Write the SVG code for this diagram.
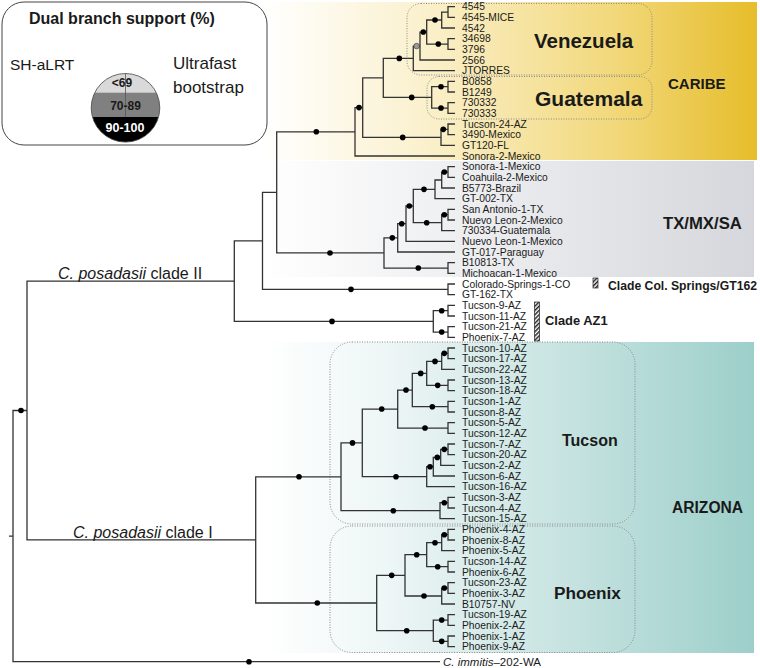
<svg xmlns="http://www.w3.org/2000/svg" width="760" height="668" viewBox="0 0 760 668">
<style>
text{font-family:"Liberation Sans",Arial,sans-serif;fill:#1a1a1a}
.lf{font-size:10.3px}
.b{font-weight:bold}
.tr{fill:none;stroke:#333;stroke-width:1.3}
.dt{fill:#000}
.box{fill:none;stroke:#8a8a8a;stroke-width:1;stroke-dasharray:1 1.5}
</style>
<defs>
<linearGradient id="gY" x1="0" y1="0" x2="1" y2="0">
<stop offset="0" stop-color="#ffffff"/>
<stop offset="0.3" stop-color="#fbf2d2"/>
<stop offset="0.7" stop-color="#f2d97e"/>
<stop offset="1" stop-color="#e6bd2a"/>
</linearGradient>
<linearGradient id="gG" x1="0" y1="0" x2="1" y2="0">
<stop offset="0" stop-color="#ffffff"/>
<stop offset="1" stop-color="#d5d7dc"/>
</linearGradient>
<linearGradient id="gT" x1="0" y1="0" x2="1" y2="0">
<stop offset="0" stop-color="#ffffff"/>
<stop offset="0.25" stop-color="#eef6f6"/>
<stop offset="1" stop-color="#9dcfca"/>
</linearGradient>
<pattern id="hatch" width="3" height="3" patternUnits="userSpaceOnUse" patternTransform="rotate(45)">
<rect width="3" height="3" fill="#fff"/><rect width="1.5" height="3" fill="#222"/>
</pattern>
<clipPath id="cc"><circle cx="125.5" cy="107.8" r="34.3"/></clipPath>
</defs>

<g id="bands">
<rect x="262" y="2" width="495" height="158" fill="url(#gY)"/>
<rect x="262" y="161" width="492" height="116" fill="url(#gG)"/>
<rect x="262" y="342" width="492" height="311" fill="url(#gT)"/>
</g>

<g id="legend">
<rect x="2" y="2" width="265" height="143" rx="22" fill="#fff" stroke="#444" stroke-width="1"/>
<text x="29" y="24" class="b" style="font-size:16px">Dual branch support (%)</text>
<text x="10" y="69.5" style="font-size:15.5px">SH-aLRT</text>
<text x="173" y="69" style="font-size:17px">Ultrafast</text>
<text x="173" y="93" style="font-size:17px">bootstrap</text>
<g clip-path="url(#cc)">
<rect x="90" y="70" width="72" height="23" fill="#d9d9d9"/>
<rect x="90" y="92.7" width="72" height="24.5" fill="#808080"/>
<rect x="90" y="117" width="72" height="30" fill="#000"/>
</g>
<line x1="125.5" y1="73.5" x2="125.5" y2="117" stroke="#555" stroke-width="0.8"/>
<circle cx="125.5" cy="107.8" r="34.3" fill="none" stroke="#444" stroke-width="0.8"/>
<text x="122" y="87" class="b" text-anchor="middle" style="font-size:12px">&lt;69</text>
<text x="125.5" y="109.5" class="b" text-anchor="middle" style="font-size:12px">70-89</text>
<text x="125" y="132" class="b" text-anchor="middle" style="font-size:12.5px;fill:#fff">90-100</text>
</g>

<g id="clade-boxes">
<rect class="box" x="407" y="3.5" width="245" height="71.5" rx="14"/>
<rect class="box" x="427" y="76.5" width="225" height="42.5" rx="12"/>
<rect class="box" x="330" y="342" width="305" height="182" rx="22"/>
<rect class="box" x="330" y="526" width="305" height="126.5" rx="22"/>
</g>

<g id="connectors">
<path class="tr" d="M455 6.7H448V17.4H455M455 38.7H448V49.4H455M455 81.4H448V92H455M455 102.7H448V113.4H455M455 124H448V134.7H455M455 166.7H448V177.4H455M455 209.4H448V220H455M455 262.7H448V273.4H455M455 284H448V294.7H455M455 305.4H448V316H455M455 326.7H448V337.4H455M455 348H448V358.7H455M455 380H448V390.7H455M455 401.4H448V412H455M455 422.7H448V433.4H455M455 444H448V454.7H455M455 497.4H448V508H455M455 529.4H448V540H455M455 561.4H448V572H455M455 582.7H448V593.4H455M455 614.7H448V625.4H455M455 636H448V646.7H455"/>
<path class="tr" d="M448 12.05H441.7V28H455M441.7 20H426.7V44.05H448M426.7 32.05H420V60H455M420 46.05H413.3V70.7H455M448 86.7H431.7V108.05H448M413.3 58.4H383.3V97.4H431.7M448 129.35H441V145.4H455M383.3 77.9H362.7V137.4H441M362.7 107.6H355V156H455"/>
<path class="tr" d="M448 172.05H441.7V188H455M441.7 180H435V198.7H455M448 214.7H441.7V230.7H455M435 189.35H413.3V222.7H441.7M413.3 206H406V241.4H455M406 223.7H397.7V252H455M397.7 237.85H384V268.05H448M355 131.8H276.7V252.95H384M276.7 192.4H262.5V289.35H448M448 310.7H433.3V332.05H448M262.5 240.9H234.3V321.4H433.3"/>
<path class="tr" d="M448 353.35H441.7V369.4H455M441.7 361.4H426.7V385.35H448M426.7 373.4H412.3V406.7H448M412.3 390.05H397.7V428.05H448M448 449.35H440.7V465.4H455M440.7 457.4H433.3V476H455M433.3 466.7H426.7V486.7H455M397.7 409.05H362.3V476.7H426.7M448 502.7H440V518.7H455M362.3 442.9H341V510.7H440"/>
<path class="tr" d="M448 534.7H441.7V550.7H455M441.7 542.7H426.7V566.7H448M448 588.05H441.7V604H455M426.7 554.7H405V596H441.7M448 620.05H433.3V641.35H448M405 575.35H376.7V630.7H433.3M341 476.8H255.7V603H376.7"/>
<path class="tr" d="M234.3 281.15H27V539.9H255.7M27 410.5H13V661.7H440M9 536.1H13"/>
</g>

<g id="support">
<circle class="dt" cx="21" cy="410.5" r="2.8"/><circle class="dt" cx="249" cy="661.7" r="2.8"/>
<circle class="dt" cx="316.3" cy="131.8" r="2.8"/><circle class="dt" cx="359" cy="107.6" r="2.8"/><circle class="dt" cx="399.3" cy="58.4" r="2.8"/><circle class="dt" cx="411.7" cy="97.4" r="2.8"/>
<circle cx="416.6" cy="46.05" r="2.8" fill="#9a9a9a" stroke="#333" stroke-width="0.6"/>
<circle class="dt" cx="423.3" cy="32.05" r="2.8"/><circle class="dt" cx="435" cy="20" r="2.8"/><circle class="dt" cx="438.3" cy="44.05" r="2.8"/><circle class="dt" cx="441" cy="86.7" r="2.8"/><circle class="dt" cx="441" cy="108.05" r="2.8"/><circle class="dt" cx="443.3" cy="129.35" r="2.8"/><circle class="dt" cx="402.7" cy="137.4" r="2.8"/>
<circle class="dt" cx="330" cy="252.95" r="2.8"/><circle class="dt" cx="392.3" cy="237.85" r="2.8"/><circle class="dt" cx="401.7" cy="223.7" r="2.8"/><circle class="dt" cx="409.3" cy="206" r="2.8"/><circle class="dt" cx="424" cy="189.35" r="2.8"/><circle class="dt" cx="426.7" cy="222.7" r="2.8"/><circle class="dt" cx="444.3" cy="172.05" r="2.8"/><circle class="dt" cx="444.3" cy="214.7" r="2.8"/><circle class="dt" cx="418.3" cy="268.05" r="2.8"/>
<circle class="dt" cx="351" cy="289.35" r="2.8"/><circle class="dt" cx="332" cy="321.4" r="2.8"/><circle class="dt" cx="441.7" cy="310.7" r="2.8"/><circle class="dt" cx="441.7" cy="332.05" r="2.8"/>
<circle class="dt" cx="299" cy="476.8" r="2.8"/><circle class="dt" cx="352.5" cy="442.9" r="2.8"/><circle class="dt" cx="393.3" cy="510.7" r="2.8"/><circle class="dt" cx="444.3" cy="502.7" r="2.8"/><circle class="dt" cx="381.7" cy="409.05" r="2.8"/><circle class="dt" cx="396" cy="476.7" r="2.8"/><circle class="dt" cx="430" cy="466.7" r="2.8"/><circle class="dt" cx="437.3" cy="457.4" r="2.8"/><circle class="dt" cx="444.3" cy="449.35" r="2.8"/><circle class="dt" cx="425" cy="428.05" r="2.8"/><circle class="dt" cx="406" cy="390.05" r="2.8"/><circle class="dt" cx="432.3" cy="406.7" r="2.8"/><circle class="dt" cx="420.7" cy="373.4" r="2.8"/><circle class="dt" cx="437.7" cy="385.35" r="2.8"/><circle class="dt" cx="435" cy="361.4" r="2.8"/><circle class="dt" cx="444.3" cy="353.35" r="2.8"/>
<circle class="dt" cx="317.3" cy="603" r="2.8"/><circle class="dt" cx="391.7" cy="575.35" r="2.8"/><circle class="dt" cx="406.7" cy="630.7" r="2.8"/><circle class="dt" cx="441.7" cy="620.05" r="2.8"/><circle class="dt" cx="441.7" cy="641.35" r="2.8"/><circle class="dt" cx="416.7" cy="554.7" r="2.8"/><circle class="dt" cx="424" cy="596" r="2.8"/><circle class="dt" cx="444.3" cy="588.05" r="2.8"/><circle class="dt" cx="435" cy="542.7" r="2.8"/><circle class="dt" cx="437.7" cy="566.7" r="2.8"/><circle class="dt" cx="444.3" cy="534.7" r="2.8"/>
</g>

<g id="leaves">
<g id="n1"><text class="lf" x="462" y="10.3">4545</text></g>
<g id="n2"><text class="lf" x="462" y="21">4545-MICE</text></g>
<g id="n3"><text class="lf" x="462" y="31.6">4542</text></g>
<g id="n4"><text class="lf" x="462" y="42.3">34698</text></g>
<g id="n5"><text class="lf" x="462" y="53">3796</text></g>
<g id="n6"><text class="lf" x="462" y="63.6">2566</text></g>
<g id="n7"><text class="lf" x="462" y="74.3">JTORRES</text></g>
<g id="n8"><text class="lf" x="462" y="85">B0858</text></g>
<g id="n9"><text class="lf" x="462" y="95.6">B1249</text></g>
<g id="n10"><text class="lf" x="462" y="106.3">730332</text></g>
<g id="n11"><text class="lf" x="462" y="117">730333</text></g>
<g id="n12"><text class="lf" x="462" y="127.6">Tucson-24-AZ</text></g>
<g id="n13"><text class="lf" x="462" y="138.3">3490-Mexico</text></g>
<g id="n14"><text class="lf" x="462" y="149">GT120-FL</text></g>
<g id="n15"><text class="lf" x="462" y="159.6">Sonora-2-Mexico</text></g>
<g id="n16"><text class="lf" x="462" y="170.3">Sonora-1-Mexico</text></g>
<g id="n17"><text class="lf" x="462" y="181">Coahuila-2-Mexico</text></g>
<g id="n18"><text class="lf" x="462" y="191.6">B5773-Brazil</text></g>
<g id="n19"><text class="lf" x="462" y="202.3">GT-002-TX</text></g>
<g id="n20"><text class="lf" x="462" y="213">San Antonio-1-TX</text></g>
<g id="n21"><text class="lf" x="462" y="223.6">Nuevo Leon-2-Mexico</text></g>
<g id="n22"><text class="lf" x="462" y="234.3">730334-Guatemala</text></g>
<g id="n23"><text class="lf" x="462" y="245">Nuevo Leon-1-Mexico</text></g>
<g id="n24"><text class="lf" x="462" y="255.6">GT-017-Paraguay</text></g>
<g id="n25"><text class="lf" x="462" y="266.3">B10813-TX</text></g>
<g id="n26"><text class="lf" x="462" y="277">Michoacan-1-Mexico</text></g>
<g id="n27"><text class="lf" x="462" y="287.6">Colorado-Springs-1-CO</text></g>
<g id="n28"><text class="lf" x="462" y="298.3">GT-162-TX</text></g>
<g id="n29"><text class="lf" x="462" y="309">Tucson-9-AZ</text></g>
<g id="n30"><text class="lf" x="462" y="319.6">Tucson-11-AZ</text></g>
<g id="n31"><text class="lf" x="462" y="330.3">Tucson-21-AZ</text></g>
<g id="n32"><text class="lf" x="462" y="341">Phoenix-7-AZ</text></g>
<g id="n33"><text class="lf" x="462" y="351.6">Tucson-10-AZ</text></g>
<g id="n34"><text class="lf" x="462" y="362.3">Tucson-17-AZ</text></g>
<g id="n35"><text class="lf" x="462" y="373">Tucson-22-AZ</text></g>
<g id="n36"><text class="lf" x="462" y="383.6">Tucson-13-AZ</text></g>
<g id="n37"><text class="lf" x="462" y="394.3">Tucson-18-AZ</text></g>
<g id="n38"><text class="lf" x="462" y="405">Tucson-1-AZ</text></g>
<g id="n39"><text class="lf" x="462" y="415.6">Tucson-8-AZ</text></g>
<g id="n40"><text class="lf" x="462" y="426.3">Tucson-5-AZ</text></g>
<g id="n41"><text class="lf" x="462" y="437">Tucson-12-AZ</text></g>
<g id="n42"><text class="lf" x="462" y="447.6">Tucson-7-AZ</text></g>
<g id="n43"><text class="lf" x="462" y="458.3">Tucson-20-AZ</text></g>
<g id="n44"><text class="lf" x="462" y="469">Tucson-2-AZ</text></g>
<g id="n45"><text class="lf" x="462" y="479.6">Tucson-6-AZ</text></g>
<g id="n46"><text class="lf" x="462" y="490.3">Tucson-16-AZ</text></g>
<g id="n47"><text class="lf" x="462" y="501">Tucson-3-AZ</text></g>
<g id="n48"><text class="lf" x="462" y="511.6">Tucson-4-AZ</text></g>
<g id="n49"><text class="lf" x="462" y="522.3">Tucson-15-AZ</text></g>
<g id="n50"><text class="lf" x="462" y="533">Phoenix-4-AZ</text></g>
<g id="n51"><text class="lf" x="462" y="543.6">Phoenix-8-AZ</text></g>
<g id="n52"><text class="lf" x="462" y="554.3">Phoenix-5-AZ</text></g>
<g id="n53"><text class="lf" x="462" y="565">Tucson-14-AZ</text></g>
<g id="n54"><text class="lf" x="462" y="575.6">Phoenix-6-AZ</text></g>
<g id="n55"><text class="lf" x="462" y="586.3">Tucson-23-AZ</text></g>
<g id="n56"><text class="lf" x="462" y="597">Phoenix-3-AZ</text></g>
<g id="n57"><text class="lf" x="462" y="607.6">B10757-NV</text></g>
<g id="n58"><text class="lf" x="462" y="618.3">Tucson-19-AZ</text></g>
<g id="n59"><text class="lf" x="462" y="629">Phoenix-2-AZ</text></g>
<g id="n60"><text class="lf" x="462" y="639.6">Phoenix-1-AZ</text></g>
<g id="n61"><text class="lf" x="462" y="650.3">Phoenix-9-AZ</text></g>
<g id="n62"><text x="443" y="665.5" style="font-size:11.5px"><tspan font-style="italic">C. immitis</tspan>–202-WA</text></g>
</g>

<g id="clade-labels">
<g id="lab-cII"><text x="58" y="279" style="font-size:16px"><tspan font-style="italic">C. posadasii</tspan> clade II</text></g>
<g id="lab-cI"><text x="73" y="537.5" style="font-size:16px"><tspan font-style="italic">C. posadasii</tspan> clade I</text></g>
<g id="lab-ven"><text x="534" y="47.5" class="b" style="font-size:20.5px">Venezuela</text></g>
<g id="lab-gua"><text x="535" y="105.5" class="b" style="font-size:21px">Guatemala</text></g>
<g id="lab-car"><text x="668" y="88.5" class="b" style="font-size:15px">CARIBE</text></g>
<g id="lab-tx"><text x="663" y="229" class="b" style="font-size:16.7px">TX/MX/SA</text></g>
<g id="lab-col"><rect x="593" y="278" width="5" height="10" fill="url(#hatch)" stroke="#222" stroke-width="0.7"/><text x="608" y="290" class="b" style="font-size:12.2px">Clade Col. Springs/GT162</text></g>
<g id="lab-az1"><rect x="534.5" y="302" width="5" height="39" fill="url(#hatch)" stroke="#222" stroke-width="0.7"/><text x="545" y="324.5" class="b" style="font-size:12.9px">Clade AZ1</text></g>
<g id="lab-tuc"><text x="562" y="446" class="b" style="font-size:16px">Tucson</text></g>
<g id="lab-pho"><text x="554" y="599" class="b" style="font-size:17.2px">Phoenix</text></g>
<g id="lab-az"><text x="672" y="512.5" class="b" style="font-size:15.6px">ARIZONA</text></g>
</g>
</svg>
